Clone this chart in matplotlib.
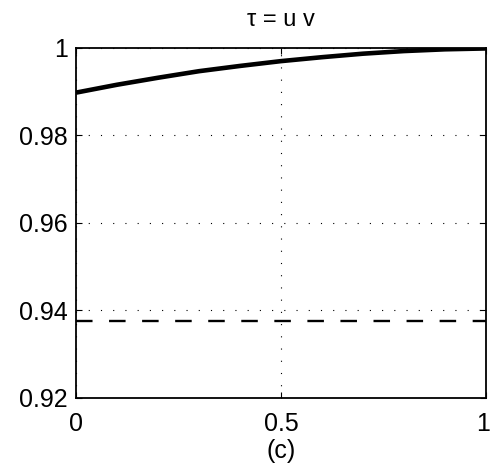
import numpy as np
import matplotlib.pyplot as plt
import matplotlib.transforms as mtransforms

plt.rcParams['font.family'] = ['Liberation Sans', 'DejaVu Sans']

# values
x = [0.0, 0.1, 0.2, 0.3, 0.4, 0.5, 0.6, 0.7, 0.8, 0.9, 1.0]
tau = [0.9898, 0.9916, 0.9932, 0.9947, 0.9959, 0.9970, 0.9979, 0.9987, 0.9993, 0.9997, 0.9999]
bound_x = [0.0, 1.0]
bound = [0.9375, 0.9375]

xticks = [0, 0.5, 1]
xtick_labels = ['0', '0.5', '1']
yticks = [0.92, 0.94, 0.96, 0.98, 1.0]
ytick_labels = ['0.92', '0.94', '0.96', '0.98', '1']

W, H = 491, 470
fig = plt.figure(figsize=(W / 100, H / 100), dpi=100)
# axes box: x 76..486, y 48..398 px
ax = fig.add_axes([76 / W, (H - 398) / H, 410 / W, 350 / H])

ax.plot(x, tau, color='black', linewidth=3.3, solid_capstyle='butt')
ax.plot(bound_x, bound, color='black', linewidth=1.7, dashes=(7, 7))

ax.set_xlim(0, 1)
ax.set_ylim(0.92, 1.0)
ax.set_xticks(xticks)
ax.set_xticklabels(xtick_labels)
ax.set_yticks(yticks)
ax.set_yticklabels(ytick_labels)
ax.tick_params(direction='in', length=4, labelsize=18, top=True, right=True)
ax.tick_params(axis='y', pad=6)
ax.tick_params(axis='x', pad=10)
ax.grid(True, color='black', linestyle=(0, (1, 10)), linewidth=0.8)
for s in ax.spines.values():
    s.set_linewidth(1.3)

# nudge the last x label a little so it stays inside the figure
last = ax.get_xticklabels()[-1]
last.set_transform(last.get_transform() + mtransforms.ScaledTranslation(-2.5 / 100, 0, fig.dpi_scale_trans))

ax.set_title('τ = u v', fontsize=17, pad=16)
ax.set_xlabel('(c)', fontsize=18, labelpad=2)

fig.savefig('out.png', dpi=100)
